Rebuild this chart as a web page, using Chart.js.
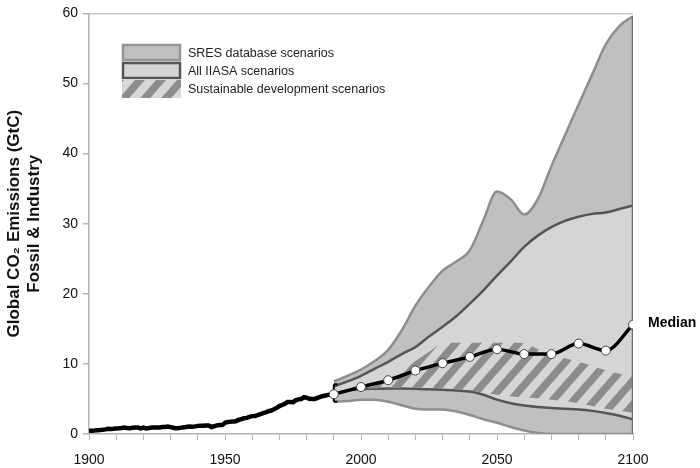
<!DOCTYPE html>
<html>
<head>
<meta charset="utf-8">
<script src="https://cdn.jsdelivr.net/npm/chart.js@4.4.1/dist/chart.umd.min.js"></script>
<style>
  html, body { margin: 0; padding: 0; background: #fff; }
</style>
</head>
<body>
<canvas id="co2" width="700" height="468"></canvas>
<script>
// Historical fossil & industry emissions (GtC), one value per year from 1900 to 1990
const histStart = 1900;
const histEmissions = [
  0.45, 0.47, 0.50, 0.55, 0.57, 0.61, 0.66, 0.74, 0.71, 0.74,
  0.80, 0.81, 0.86, 0.93, 0.84, 0.83, 0.88, 0.93, 0.92, 0.80,
  0.92, 0.80, 0.84, 0.93, 0.92, 0.94, 0.93, 1.00, 0.99, 1.06,
  0.98, 0.89, 0.81, 0.85, 0.91, 0.95, 1.03, 1.08, 1.04, 1.09,
  1.16, 1.19, 1.18, 1.21, 1.20, 1.00, 1.10, 1.23, 1.28, 1.27,
  1.60, 1.72, 1.75, 1.80, 1.83, 2.00, 2.12, 2.24, 2.30, 2.43,
  2.55, 2.57, 2.68, 2.82, 2.97, 3.10, 3.25, 3.35, 3.52, 3.72,
  3.98, 4.14, 4.32, 4.55, 4.56, 4.54, 4.80, 4.94, 4.99, 5.26,
  5.18, 5.03, 4.98, 4.98, 5.15, 5.30, 5.42, 5.50, 5.58, 5.64,
  5.68
];

// Scenario envelopes (GtC), every 5 years 1990-2100
const scenarioYears = [1990, 1995, 2000, 2005, 2010, 2015, 2020, 2025, 2030, 2035, 2040, 2045,
                       2050, 2055, 2060, 2065, 2070, 2075, 2080, 2085, 2090, 2095, 2100];
const sresHigh  = [7.5, 8.3, 9.2, 10.4, 12.0, 14.8, 18.3, 21.0, 23.3, 24.6, 26.2, 30.5,
                   34.6, 33.5, 31.3, 33.5, 38.2, 42.6, 47.0, 51.3, 55.6, 58.2, 59.6];
const sresLow   = [4.6, 4.7, 4.9, 4.9, 4.6, 4.1, 3.6, 3.5, 3.5, 3.2, 2.7, 2.1,
                   1.6, 1.0, 0.5, 0.15, 0, 0, 0, 0, 0, 0, 0];
const iiasaHigh = [6.8, 7.5, 8.3, 9.3, 10.3, 11.4, 12.4, 13.9, 15.3, 16.8, 18.6, 20.5,
                   22.6, 24.6, 26.7, 28.3, 29.5, 30.4, 31.0, 31.4, 31.6, 32.1, 32.6];
const iiasaLow  = [5.8, 6.2, 6.4, 6.45, 6.5, 6.5, 6.45, 6.4, 6.3, 6.2, 6.05, 5.6,
                   4.9, 4.4, 4.05, 3.85, 3.7, 3.6, 3.5, 3.3, 3.0, 2.6, 2.1];

// Sustainable development band, every 5 years 2000-2100
const sustYears = [2000, 2005, 2010, 2015, 2020, 2025, 2030, 2035, 2040, 2045, 2050,
                   2055, 2060, 2065, 2070, 2075, 2080, 2085, 2090, 2095, 2100];
const sustHigh  = [6.6, 6.9, 7.8, 9.0, 10.4, 11.7, 12.9, 13.0, 13.0, 13.0, 13.0,
                   13.0, 12.9, 12.1, 11.3, 10.8, 10.3, 9.7, 9.1, 8.6, 8.2];
const sustLow   = [6.5, 6.5, 6.6, 6.6, 6.6, 6.6, 6.5, 6.4, 6.2, 5.9, 5.6,
                   5.4, 5.2, 5.1, 4.9, 4.7, 4.4, 4.0, 3.6, 3.3, 3.0];

// Median of all scenarios, every 10 years
const medianYears  = [1990, 2000, 2010, 2020, 2030, 2040, 2050, 2060, 2070, 2080, 2090, 2100];
const medianValues = [5.67, 6.7, 7.67, 9.05, 10.1, 11.0, 12.1, 11.4, 11.4, 12.9, 11.9, 15.6];

// 1990 base-year uncertainty range
const baseYear = 1990;
const baseRange = [4.6, 7.1];

const xTickLabels = [1900, 1950, 2000, 2050, 2100];
const legendLabels = ["SRES database scenarios", "All IIASA scenarios", "Sustainable development scenarios"];
const medianLabel = "Median";
const yTitle = ["Global CO\u2082 Emissions (GtC)", "Fossil & Industry"];

const FONT = "'Liberation Sans', Arial, sans-serif";
Chart.defaults.font.family = FONT;

function pts(xs, ys) {
  return xs.map((x, i) => ({ x: x, y: ys[i] }));
}

// diagonal stripes used for the sustainable development band
function makeHatch() {
  const c = document.createElement("canvas");
  c.width = 21;
  c.height = 24;
  const g = c.getContext("2d");
  g.strokeStyle = "#8c8c8c";
  g.lineWidth = 7.5;
  for (let x0 = -42; x0 <= 42; x0 += 21) {
    g.beginPath();
    g.moveTo(x0 - 21, 48);
    g.lineTo(x0 + 42, -24);
    g.stroke();
  }
  return g.createPattern(c, "repeat");
}
const hatch = makeHatch();

const histData = histEmissions.map((v, i) => ({ x: histStart + i, y: v }));

// legend box in the upper-left plus the "Median" tag
const annotations = {
  id: "annotations",
  afterDatasetsDraw(chart) {
    const ctx = chart.ctx;
    const xs = chart.scales.x, ys = chart.scales.y;
    ctx.save();

    // Median label next to last median point
    const mx = xs.getPixelForValue(medianYears[medianYears.length - 1]);
    const my = ys.getPixelForValue(medianValues[medianValues.length - 1]);
    ctx.font = "bold 14px " + FONT;
    ctx.fillStyle = "#000";
    ctx.textBaseline = "middle";
    ctx.textAlign = "left";
    ctx.fillText(medianLabel, mx + 15, my - 2);

    // legend
    const bx = 122, bw = 59, bh = 17;
    const rows = [44, 62, 80];
    ctx.lineWidth = 2.5;
    ctx.fillStyle = "#c0c0c0";
    ctx.fillRect(bx, rows[0], bw, bh);
    ctx.strokeStyle = "#969696";
    ctx.strokeRect(bx + 1, rows[0] + 1, bw - 2, bh - 2);

    ctx.fillStyle = "#d5d5d5";
    ctx.fillRect(bx, rows[1], bw, bh);
    ctx.strokeStyle = "#555";
    ctx.strokeRect(bx + 1, rows[1] + 1, bw - 2, bh - 2);

    ctx.fillStyle = "#d8d8d8";
    ctx.fillRect(bx, rows[2], bw, bh + 1);
    ctx.fillStyle = hatch;
    ctx.fillRect(bx, rows[2], bw, bh + 1);

    ctx.font = "12.5px " + FONT;
    ctx.fillStyle = "#222";
    legendLabels.forEach((t, i) => {
      ctx.fillText(t, 188, rows[i] + bh / 2 + 1);
    });
    ctx.restore();
  }
};

new Chart(document.getElementById("co2"), {
  type: "line",
  data: {
    datasets: [
      { data: pts(scenarioYears, sresLow), borderColor: "#8e8e8e", borderWidth: 2.5,
        fill: false, order: 60 },
      { data: pts(scenarioYears, sresHigh), borderColor: "#8e8e8e", borderWidth: 2.5,
        fill: "-1", backgroundColor: "#c0c0c0", order: 60 },
      { data: pts(scenarioYears, iiasaLow), borderColor: "#555", borderWidth: 2.5,
        fill: false, order: 50 },
      { data: pts(scenarioYears, iiasaHigh), borderColor: "#555", borderWidth: 2.5,
        fill: "-1", backgroundColor: "#d5d5d5", order: 50 },
      { data: pts(sustYears, sustLow), borderColor: "transparent", borderWidth: 0,
        fill: false, order: 40 },
      { data: pts(sustYears, sustHigh), borderColor: "transparent", borderWidth: 0,
        fill: "-1", backgroundColor: hatch, order: 40 },
      // right-hand edge of the scenario range at 2100
      { data: [{ x: 2100, y: sresLow[sresLow.length - 1] }, { x: 2100, y: sresHigh[sresHigh.length - 1] }],
        borderColor: "#6e6e6e", borderWidth: 2.5, fill: false, order: 30 },
      { data: histData, borderColor: "#000", borderWidth: 4.5, fill: false, tension: 0,
        cubicInterpolationMode: "default", order: 20 },
      { data: [{ x: baseYear, y: baseRange[0] }, { x: baseYear, y: baseRange[1] }],
        borderColor: "#000", borderWidth: 2, fill: false, order: 15,
        pointStyle: "dash", pointRadius: 3.5, pointBorderWidth: 2, pointBorderColor: "#000" },
      { data: pts(medianYears, medianValues), borderColor: "#000", borderWidth: 3.5, fill: false,
        order: 10, pointRadius: 4.5, pointBackgroundColor: "#fff", pointBorderColor: "#444",
        pointBorderWidth: 1 }
    ]
  },
  options: {
    responsive: false,
    animation: false,
    layout: { padding: { left: 0, right: 67, top: 6, bottom: 0 } },
    elements: {
      point: { radius: 0, hoverRadius: 0 },
      line: { cubicInterpolationMode: "monotone" }
    },
    plugins: {
      legend: { display: false },
      tooltip: { enabled: false }
    },
    scales: {
      x: {
        type: "linear",
        min: 1900,
        max: 2100,
        afterFit: s => { s.height = 34; },
        ticks: {
          stepSize: 10,
          autoSkip: false,
          maxRotation: 0,
          padding: 12,
          color: "#111",
          font: { size: 14 },
          callback: v => xTickLabels.includes(v) ? String(v) : ""
        },
        grid: { drawOnChartArea: false, tickLength: 6, color: "#b4b4b4" },
        border: { color: "#b4b4b4", width: 1.5 }
      },
      y: {
        min: 0,
        max: 60,
        afterFit: s => { s.width = 89; },
        ticks: { stepSize: 10, padding: 5, color: "#111", font: { size: 14 } },
        grid: {
          color: c => (c.tick && c.tick.value === 60) ? "#c8c8c8" : "transparent",
          tickColor: "#b4b4b4",
          tickLength: 6,
          lineWidth: 1.5
        },
        border: { color: "#b4b4b4", width: 1.5 },
        title: {
          display: true,
          text: yTitle,
          color: "#111",
          font: { size: 17, weight: "bold" },
          lineHeight: 1.08,
          padding: { top: 4, bottom: 20 }
        }
      }
    }
  },
  plugins: [annotations]
});
</script>
</body>
</html>
